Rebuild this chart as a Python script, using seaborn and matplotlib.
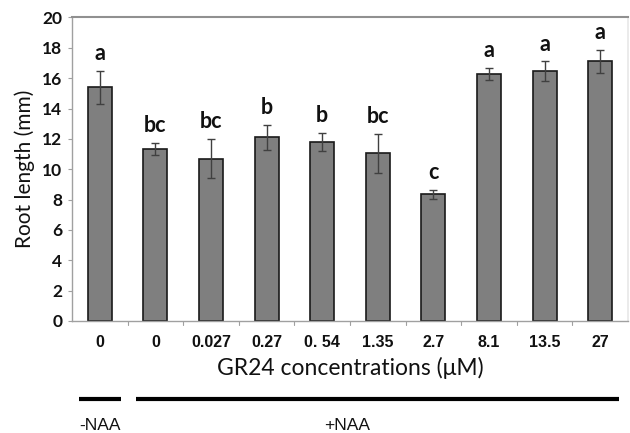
import matplotlib
matplotlib.use("Agg")
import matplotlib.pyplot as plt
import matplotlib.transforms as mtransforms
import seaborn as sns
import pandas as pd
import numpy as np

tick_labels = ["0", "0", "0.027", "0.27", "0. 54", "1.35", "2.7", "8.1", "13.5", "27"]
means = [15.4, 11.35, 10.7, 12.1, 11.8, 11.05, 8.35, 16.3, 16.45, 17.1]
errors = [1.1, 0.4, 1.3, 0.8, 0.6, 1.3, 0.3, 0.4, 0.65, 0.75]
letters = ["a", "bc", "bc", "b", "b", "bc", "c", "a", "a", "a"]
groups = [f"g{i}" for i in range(len(means))]

df = pd.DataFrame({"group": groups, "value": means})

sns.set_theme(style="white")
plt.rcParams["font.family"] = ["Lato", "DejaVu Sans"]

fig = plt.figure(figsize=(6.3, 4.33), dpi=100)
ax = fig.add_axes([0.1143, 0.2587, 0.8825, 0.7009])

sns.barplot(data=df, x="group", y="value", order=groups, color="#7f7f7f",
            saturation=1, width=0.43, edgecolor="#1a1a1a", linewidth=1.2,
            errorbar=None, ax=ax)

xs = np.arange(len(means))
ax.errorbar(xs, means, yerr=errors, fmt="none", ecolor="#404040",
            elinewidth=1.0, capsize=3, capthick=1.0, zorder=5)

for x, m, e, l in zip(xs, means, errors, letters):
    ax.text(x, m + e + 0.45, l, ha="center", va="bottom", fontsize=15.5,
            fontweight="bold", color="#111111")

ax.set_xlim(-0.5, 9.5)
ax.set_ylim(0, 20)
ax.set_yticks(range(0, 21, 2))
ax.set_yticklabels([str(v) for v in range(0, 21, 2)], fontsize=12.5,
                   fontweight="bold", color="#111111")
ax.set_xticks(xs)
ax.set_xticklabels(tick_labels, fontsize=11.5, fontweight="bold",
                   color="#111111", family=["Liberation Sans", "DejaVu Sans"])
ax.tick_params(axis="x", length=0, pad=10)
ax.tick_params(axis="y", length=3, width=0.8, color="#a0a0a0", left=True, pad=4)
trans = mtransforms.blended_transform_factory(ax.transData, ax.transAxes)
# boundary ticks between categories
for b in np.arange(-0.5, 9.6, 1.0)[1:-1]:
    ax.plot([b, b], [0, -0.012], transform=trans, color="#a0a0a0", lw=0.8, clip_on=False)

for s in ["left", "bottom", "top"]:
    ax.spines[s].set_visible(True)
    ax.spines[s].set_color("#a0a0a0")
    ax.spines[s].set_linewidth(1.0)
ax.spines["top"].set_color("#909090")
ax.spines["top"].set_linewidth(1.5)
ax.spines["right"].set_visible(True)
ax.spines["right"].set_color("#e8e8e8")

ax.set_xlabel("GR24 concentrations (μM)", fontsize=16.5, color="#111111", labelpad=5)
ax.set_ylabel("Root length (mm)", fontsize=15, color="#111111", labelpad=5)

ax.plot([-0.37, 0.39], [-0.257, -0.257], transform=trans, color="black", lw=3, clip_on=False,
        solid_capstyle="butt")
ax.plot([0.65, 9.34], [-0.257, -0.257], transform=trans, color="black", lw=3, clip_on=False,
        solid_capstyle="butt")
ax.text(0.0, -0.358, "-NAA", transform=trans, ha="center", va="baseline", fontsize=12.5,
        color="#111111", clip_on=False, family=["Liberation Sans", "DejaVu Sans"])
ax.text(4.45, -0.358, "+NAA", transform=trans, ha="center", va="baseline", fontsize=12.5,
        color="#111111", clip_on=False, family=["Liberation Sans", "DejaVu Sans"])

fig.savefig("out.png", dpi=100)
